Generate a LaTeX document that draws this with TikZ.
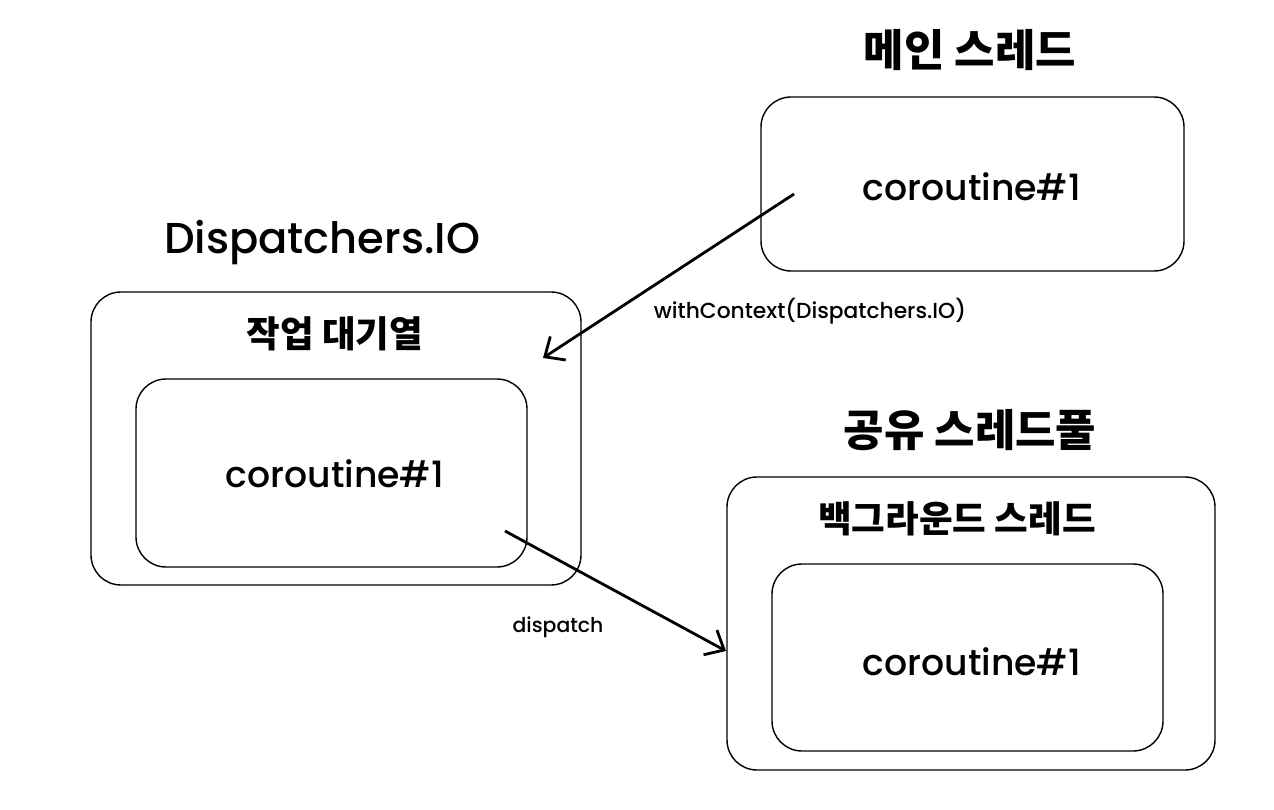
\documentclass[tikz,border=0pt]{standalone}
\usepackage{fontspec}
\setmainfont{Poppins Medium}
\newfontfamily\kor{Noto Sans CJK KR}
\usetikzlibrary{arrows.meta}
\tikzstyle{box}=[draw=black, line width=0.8pt, rounded corners=0.6cm]
\tikzstyle{head}=[font=\kor\bfseries\fontsize{25}{28}\selectfont]
\tikzstyle{sub}=[font=\kor\bfseries\fontsize{20.8}{24}\selectfont]
\tikzstyle{coro}=[font=\fontsize{20.6}{25}\selectfont]
\tikzstyle{note}=[font=\fontsize{12.4}{15}\selectfont]
\tikzstyle{flow}=[line width=1.6pt, -{Straight Barb[length=9pt, width=16pt, line width=1.6pt]}]

\begin{document}
\begin{tikzpicture}[x=0.02cm, y=-0.02cm]
				\useasboundingbox (0,0) rectangle (1274,810);

				% Main thread
				\node[head] (mainT) at (970, 50) {메인 스레드};
				\draw[box] (761,97) rectangle (1184,271);
				\node[coro] (coroA) at (972,187) {coroutine\#1};

				% Dispatchers.IO queue
				\node[font=\fontsize{24.6}{30}\selectfont] (ioT) at (322,243) {Dispatchers.IO};
				\draw[box] (91,292) rectangle (581,585);
				\node[sub] (queueT) at (335,334) {작업 대기열};
				\draw[box] (136,379) rectangle (527,567);
				\node[coro] (coroB) at (335,474) {coroutine\#1};

				% Shared thread pool
				\node[head] (poolT) at (970,430) {공유 스레드풀};
				\draw[box] (727,477) rectangle (1215,770);
				\node[sub] (bgT) at (957,519) {백그라운드 스레드};
				\draw[box] (772,564) rectangle (1163,751);
				\node[coro] (coroC) at (972,662) {coroutine\#1};

				% Connectors
				\coordinate (a1) at (794,194);
				\coordinate (a2) at (543,358);
				\coordinate (b1) at (505,531);
				\coordinate (b2) at (726,651);
				\draw[flow] (a1) -- (a2);
				\draw[flow] (b1) -- (b2);
				\node[note] (ctxL) at (810,311) {withContext(Dispatchers.IO)};
				\node[note, font=\fontsize{11.6}{14}\selectfont] (dispL) at (558,627) {dispatch};
			\end{tikzpicture}
\end{document}
